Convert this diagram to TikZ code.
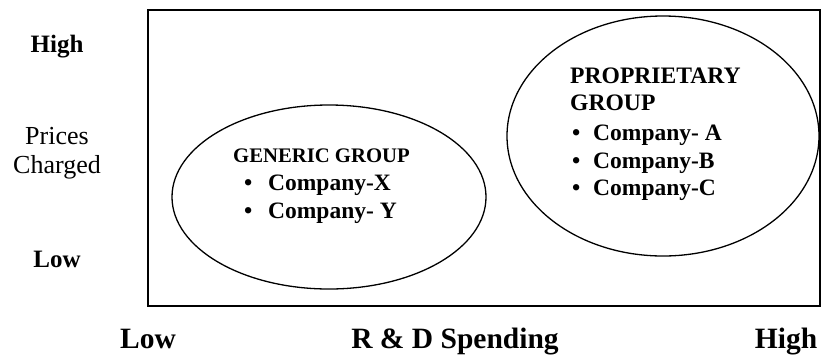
\documentclass[tikz,border=0pt]{standalone}
\usepackage{fontspec}
\setmainfont{Liberation Serif}
\begin{document}
\begin{tikzpicture}[x=1pt,y=-1pt,
  frame/.style={draw=black,line width=1.6pt},
  group/.style={draw=black,line width=1.3pt},
  axislbl/.style={font=\bfseries\fontsize{29.5}{31}\selectfont,inner sep=0pt,anchor=base},
  sidelbl/.style={font=\bfseries\fontsize{25}{28}\selectfont,inner sep=0pt,anchor=base},
  plainlbl/.style={font=\fontsize{26}{28}\selectfont,inner sep=0pt,anchor=base},
  hdr/.style={font=\bfseries\fontsize{23.6}{27}\selectfont,inner sep=0pt,anchor=base west},
  item/.style={font=\bfseries\fontsize{23.5}{28}\selectfont,inner sep=0pt,anchor=base west},
  dot/.style={font=\bfseries\fontsize{23.5}{28}\selectfont,inner sep=0pt,anchor=base west}]
\useasboundingbox (0,0) rectangle (824,354);
\draw[frame] (148,10) rectangle (820,306);
\draw[group] (329,197) ellipse [x radius=157, y radius=92];
\draw[group] (663,136) ellipse [x radius=156, y radius=120];
% left labels
\node[sidelbl] (hi) at (57,52) {High};
\node[plainlbl] (pr) at (57,144) {Prices};
\node[plainlbl] (ch) at (57,173) {Charged};
\node[sidelbl] (lo) at (57,267) {Low};
% bottom labels
\node[axislbl] (blo) at (148,348) {Low};
\node[axislbl] (rd) at (455,348) {R \& D Spending};
\node[axislbl] (bhi) at (786,348) {High};
% generic group
\node[hdr,font=\bfseries\fontsize{20.7}{24}\selectfont] (gh) at (233,162) {GENERIC GROUP};
\node[dot] (gb1) at (244,190) {•};
\node[item] (gx) at (268,190) {Company-X};
\node[dot] (gb2) at (244,218) {•};
\node[item] (gy) at (268,218) {Company- Y};
% proprietary group
\node[hdr] (ph1) at (570,83) {PROPRIETARY};
\node[hdr] (ph2) at (570,110) {GROUP};
\node[dot] (pb1) at (572,140) {•};
\node[item] (pa) at (593,140) {Company- A};
\node[dot] (pb2) at (572,168) {•};
\node[item] (pb) at (593,168) {Company-B};
\node[dot] (pb3) at (572,195) {•};
\node[item] (pc) at (593,195) {Company-C};
\end{tikzpicture}
\end{document}
